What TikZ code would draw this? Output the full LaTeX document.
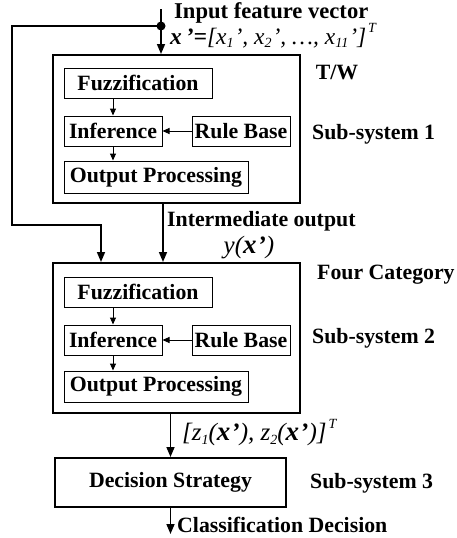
\documentclass[tikz,border=0pt]{standalone}
\usepackage{fontspec}
\setmainfont{Liberation Serif}
\usetikzlibrary{arrows.meta}
\newcommand{\lblfont}{\fontsize{21.8}{24}\selectfont\bfseries}
\newcommand{\bigfont}{\fontsize{22.6}{25}\selectfont\bfseries}
\newcommand{\mfont}{\fontsize{23.5}{26}\selectfont\itshape}
\newcommand{\zfont}{\fontsize{25}{27}\selectfont\itshape}
\newcommand{\sbx}[1]{\raisebox{-0.35ex}{\fontsize{14}{14}\selectfont\itshape #1}}
\newcommand{\spx}[1]{\raisebox{1.05ex}{\fontsize{14}{14}\selectfont\itshape #1}}
\newcommand{\bx}{\textbf{\textit{x}}}
\newcommand{\bbx}{{\fontsize{27}{27}\selectfont\textbf{\textit{x}}}}
\begin{document}
\begin{tikzpicture}[x=1pt,y=-1pt,
  outer/.style={draw, line width=2pt, inner sep=0pt},
  inner/.style={draw, line width=1pt, inner sep=0pt, font=\lblfont},
  lbl/.style={inner sep=0pt, font=\lblfont},
  mlbl/.style={inner sep=0pt, font=\mfont},
  zlbl/.style={inner sep=0pt, font=\zfont},
  arr/.style={line width=1.6pt, -{Triangle[length=10pt,width=8pt]}},
  iarr/.style={line width=1pt, -{Triangle[length=7pt,width=6pt]}},
]
\useasboundingbox (0,0) rectangle (457,538);

% Sub-system 1
\node[outer, minimum width=247pt, minimum height=148pt] (b1) at (176.5,129) {};
\node[inner, minimum width=148pt, minimum height=30pt] (fz1) at (138,83) {Fuzzification};
\node[inner, minimum width=98pt, minimum height=30pt] (inf1) at (113,131) {Inference};
\node[inner, minimum width=98pt, minimum height=30pt] (rb1) at (241,131) {Rule Base};
\node[inner, minimum width=184pt, minimum height=32pt] (op1) at (156,177) {Output Processing};
\draw[iarr] (inf1.north |- fz1.south) -- (inf1.north);
\draw[iarr] (rb1.west) -- (inf1.east);
\draw[iarr] (inf1.south) -- (inf1.south |- op1.north);

% Sub-system 2
\node[outer, minimum width=247pt, minimum height=150pt] (b2) at (176.5,338) {};
\node[inner, minimum width=148pt, minimum height=30pt] (fz2) at (138,292) {Fuzzification};
\node[inner, minimum width=98pt, minimum height=30pt] (inf2) at (113,340) {Inference};
\node[inner, minimum width=98pt, minimum height=30pt] (rb2) at (241,340) {Rule Base};
\node[inner, minimum width=184pt, minimum height=31pt] (op2) at (156,386.5) {Output Processing};
\draw[iarr] (inf2.north |- fz2.south) -- (inf2.north);
\draw[iarr] (rb2.west) -- (inf2.east);
\draw[iarr] (inf2.south) -- (inf2.south |- op2.north);

% Sub-system 3
\node[outer, minimum width=231pt, minimum height=49pt, font=\lblfont] (dec) at (170.5,482.5) {Decision Strategy};

% input
\coordinate (in) at (161,9);
\node[circle, fill, inner sep=0pt, minimum size=9pt] (dot) at (161,26) {};
\draw[arr] (in) -- (in |- b1.north);
\coordinate (fbA) at (12,26);
\coordinate (fbB) at (12,225);
\coordinate (fbC) at (101,225);
\draw[arr] (dot.center) -- (fbA) -- (fbB) -- (fbC) -- (fbC |- b2.north);

% intermediate
\coordinate (im) at (163,0);
\draw[arr] (im |- b1.south) -- (im |- b2.north);

% to decision
\draw[arr] (dec.north |- b2.south) -- (dec.north);
\coordinate (out) at (170.5,534);
\draw[arr] (dec.south) -- (out);

% labels
\node[inner sep=0pt, font=\bigfont, anchor=base west] (tin) at (174,19) {Input feature vector};
\node[mlbl, anchor=base west] (tvec) at (170,44) {\bx\textbf{\,'=}[\textit{x}\sbx{1}\kern1pt', \textit{x}\sbx{2}\kern1pt', \ldots, \textit{x}\sbx{11}\kern1pt']\kern2pt\spx{T}};
\node[lbl, anchor=center] (ttw) at (337,72) {T/W};
\node[lbl, anchor=west] (ts1) at (312,134) {Sub-system 1};
\node[lbl, anchor=west] (tint) at (167,221) {Intermediate output};
\node[zlbl, anchor=base] (ty) at (249,253) {y(\bbx\kern1pt\textbf{'})};
\node[lbl, anchor=west] (tfc) at (317,275) {Four Category};
\node[lbl, anchor=west] (ts2) at (312,338) {Sub-system 2};
\node[zlbl, anchor=west] (tz) at (182,433) {[z\sbx{1}(\bbx\kern1pt\textbf{'}), z\sbx{2}(\bbx\kern1pt\textbf{'})]\kern2pt\spx{T}};
\node[lbl, anchor=west] (ts3) at (310,483) {Sub-system 3};
\node[lbl, anchor=west] (tcd) at (177,525) {Classification Decision};
\end{tikzpicture}
\end{document}
